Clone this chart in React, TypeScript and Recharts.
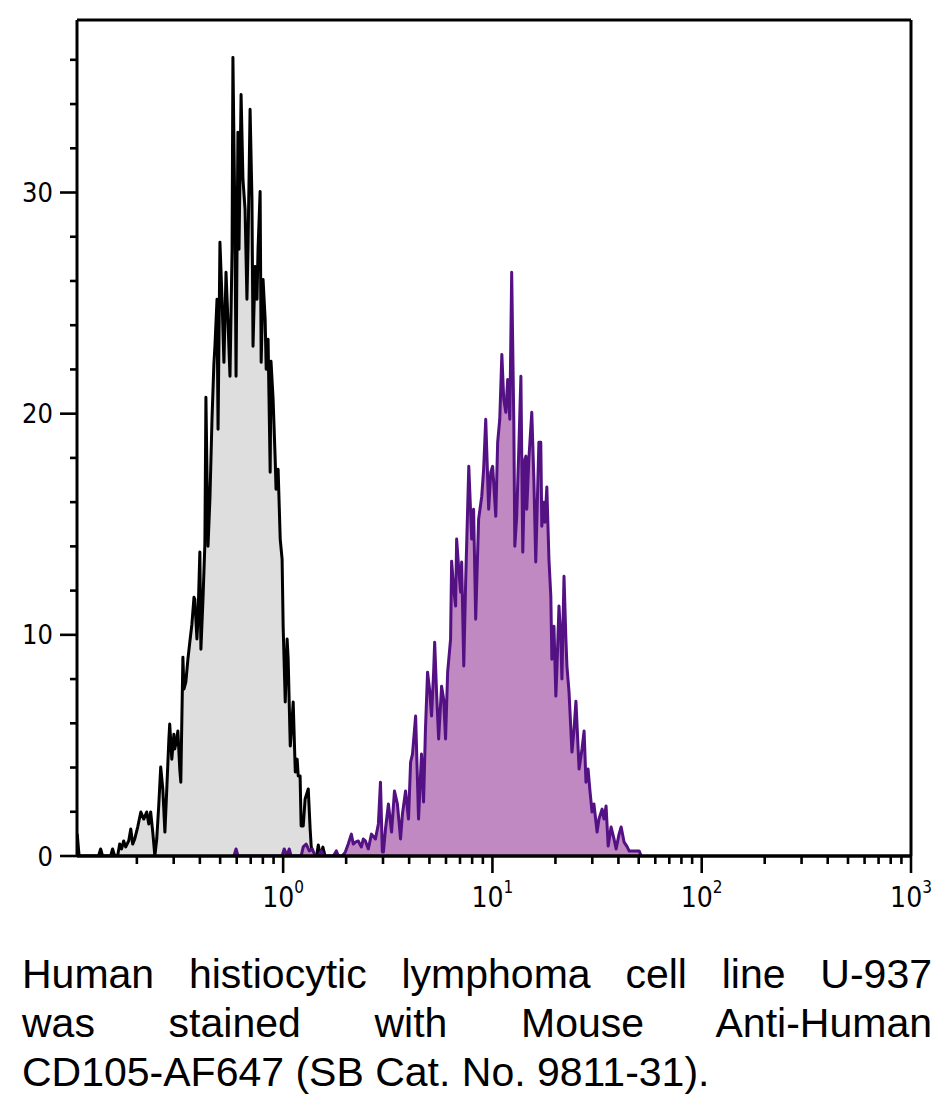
import React from 'react';
import { ComposedChart, Area, XAxis, YAxis, ReferenceLine } from 'recharts';

// Control (unstained) histogram: log10 fluorescence and event counts
const controlLog = [
  -0.984, -0.975, -0.882, -0.872, -0.863, -0.824, -0.815, -0.805, -0.791, -0.781,
  -0.772, -0.762, -0.752, -0.738, -0.728, -0.719, -0.709, -0.695, -0.680, -0.666,
  -0.652, -0.642, -0.633, -0.623, -0.613, -0.604, -0.594, -0.585, -0.575, -0.565,
  -0.556, -0.546, -0.542, -0.532, -0.522, -0.518, -0.508, -0.503, -0.494, -0.489,
  -0.479, -0.474, -0.465, -0.455, -0.446, -0.436, -0.426, -0.422, -0.412, -0.407,
  -0.398, -0.393, -0.383, -0.374, -0.369, -0.359, -0.350, -0.340, -0.331, -0.326,
  -0.316, -0.311, -0.302, -0.292, -0.283, -0.273, -0.264, -0.254, -0.244, -0.240,
  -0.230, -0.225, -0.216, -0.211, -0.201, -0.192, -0.182, -0.173, -0.168, -0.158,
  -0.149, -0.144, -0.134, -0.125, -0.120, -0.110, -0.105, -0.096, -0.086, -0.081,
  -0.072, -0.062, -0.058, -0.048, -0.038, -0.034, -0.024, -0.014, -0.005, 0.000,
  0.010, 0.019, 0.024, 0.034, 0.043, 0.048, 0.058, 0.067, 0.072, 0.081,
  0.086, 0.096, 0.105, 0.120, 0.129, 0.134, 0.144, 0.160, 0.168, 0.177,
  0.190, 0.200,
];
const controlCount = [
  1.0, 0, 0, 0.32, 0, 0, 0.32, 0, 0, 0.54,
  0.32, 0.68, 0.41, 0.68, 1.22, 0.54, 0.77, 1.31, 1.99, 1.67,
  1.99, 1.45, 1.99, 1.08, 0, 0.77, 2.35, 4.02, 3.03, 1.08,
  3.03, 5.29, 5.97, 4.38, 5.51, 4.84, 5.29, 5.65, 3.93, 3.34,
  8.99, 7.55, 7.86, 8.9, 9.67, 10.48, 11.7, 11.61, 9.81, 10.71,
  13.74, 9.35, 11.61, 14.1, 20.74, 14.01, 16.13, 19.75, 22.23, 23.05,
  25.17, 19.3, 27.75, 25.17, 22.32, 26.39, 24.27, 21.69, 27.43, 36.11,
  28.33, 21.69, 32.72, 27.43, 34.43, 30.59, 29.24, 25.17, 27.43, 33.76,
  29.69, 23.05, 26.66, 25.17, 27.43, 30.05, 22.32, 26.07, 24.27, 22.01,
  23.36, 17.35, 22.37, 20.65, 17.94, 16.58, 17.49, 14.33, 13.42, 10.39,
  6.96, 9.81, 8.9, 4.97, 6.19, 6.96, 3.8, 4.38, 3.62, 3.62,
  1.36, 1.36, 2.58, 3.03, 1.22, 0.45, 0, 0, 0.5, 0,
  0.4, 0,
];

// CD105-AF647 stained histogram: log10 fluorescence and event counts
const stainedLog = [
  -0.235, -0.225, -0.216, -0.005, 0.005, 0.019, 0.029, 0.038, 0.086, 0.096,
  0.110, 0.125, 0.139, 0.153, 0.168, 0.182, 0.196, 0.240, 0.254, 0.264,
  0.283, 0.297, 0.311, 0.326, 0.335, 0.345, 0.359, 0.374, 0.383, 0.393,
  0.407, 0.422, 0.441, 0.455, 0.465, 0.474, 0.479, 0.489, 0.503, 0.518,
  0.532, 0.546, 0.561, 0.570, 0.585, 0.599, 0.609, 0.618, 0.633, 0.647,
  0.661, 0.671, 0.680, 0.690, 0.700, 0.709, 0.719, 0.724, 0.733, 0.743,
  0.757, 0.767, 0.776, 0.786, 0.800, 0.805, 0.815, 0.824, 0.829, 0.839,
  0.848, 0.853, 0.863, 0.872, 0.887, 0.901, 0.910, 0.920, 0.934, 0.949,
  0.958, 0.968, 0.982, 0.992, 1.001, 1.016, 1.025, 1.035, 1.045, 1.054,
  1.064, 1.073, 1.083, 1.092, 1.102, 1.107, 1.116, 1.126, 1.136, 1.145,
  1.155, 1.160, 1.164, 1.174, 1.188, 1.198, 1.207, 1.222, 1.231, 1.236,
  1.246, 1.251, 1.260, 1.270, 1.279, 1.284, 1.294, 1.303, 1.308, 1.318,
  1.327, 1.332, 1.342, 1.351, 1.356, 1.366, 1.380, 1.390, 1.399, 1.414,
  1.428, 1.438, 1.447, 1.457, 1.466, 1.476, 1.485, 1.500, 1.509, 1.524,
  1.533, 1.543, 1.553, 1.567, 1.581, 1.591, 1.605, 1.615, 1.629, 1.644,
  1.653, 1.677, 1.701, 1.711,
];
const stainedCount = [
  0, 0.32, 0, 0, 0.32, 0, 0.32, 0, 0, 0.41,
  0.54, 0.23, 0.32, 0, 0, 0.23, 0, 0, 0.23, 0,
  0, 0.18, 0.54, 0.99, 0.54, 0.63, 0.68, 0.41, 0.77, 0.68,
  0.32, 0.99, 0.77, 1.45, 3.34, 0.18, 0.18, 1.22, 2.35, 1.08,
  2.94, 2.35, 0.77, 1.9, 2.94, 1.67, 4.25, 4.61, 6.33, 1.67,
  4.61, 2.44, 5.74, 8.31, 7.5, 6.33, 8.31, 9.67, 7.41, 5.29,
  7.68, 7.09, 5.29, 8.31, 9.81, 13.33, 12.07, 11.3, 14.33, 12.97,
  11.93, 13.29, 8.59, 12.38, 17.62, 14.33, 15.68, 10.71, 15.23, 16.27,
  17.49, 19.75, 15.68, 17.35, 17.62, 15.36, 18.71, 19.75, 22.68, 20.65,
  20.06, 21.55, 19.75, 26.39, 19.75, 14.01, 15.36, 18.39, 21.69, 13.74,
  17.94, 18.08, 15.68, 17.94, 20.06, 17.04, 13.29, 18.71, 18.71, 14.91,
  16.0, 15.09, 16.68, 13.42, 11.75, 8.9, 10.39, 7.23, 8.45, 11.3,
  9.81, 8.0, 12.65, 9.81, 8.59, 7.41, 4.7, 5.74, 7.0, 3.93,
  4.84, 5.65, 3.34, 3.93, 2.94, 1.99, 2.35, 1.08, 1.67, 2.12,
  1.67, 2.26, 0.45, 1.31, 0.77, 0.32, 0.99, 1.31, 0.63, 0.41,
  0.23, 0.23, 0.23, 0,
];

const yTicks = [0, 2, 4, 6, 8, 10, 12, 14, 16, 18, 20, 22, 24, 26, 28, 30, 32, 34, 36];
const yLabelEvery = 10;
const xMajorDecades = [0, 1, 2, 3];
const xMinorDecades = [-1, 0, 1, 2];
const xMinorMultipliers = [2, 3, 4, 5, 6, 7, 8, 9];

const captionLines = [
  'Human histiocytic lymphoma cell line U-937',
  'was stained with Mouse Anti-Human',
  'CD105-AF647 (SB Cat. No. 9811-31).',
];

const X_DOMAIN: [number, number] = [-0.985, 3];
const Y_DOMAIN: [number, number] = [0, 37.8];

const controlData = controlLog.map((x, i) => ({ x, y: controlCount[i] }));
const stainedData = stainedLog.map((x, i) => ({ x, y: stainedCount[i] }));

const xTicks = [
  ...xMinorDecades.flatMap((d) => xMinorMultipliers.map((m) => d + Math.log10(m))),
  ...xMajorDecades,
].sort((a, b) => a - b);

const TICK_FONT = "'Liberation Sans Narrow', 'DejaVu Sans Condensed', 'Liberation Sans', sans-serif";

const XTick = (props: any) => {
  const { x, y, payload } = props;
  const v = payload.value;
  const major = xMajorDecades.some((d) => Math.abs(d - v) < 1e-6);
  return (
    <g>
      <line x1={x} x2={x} y1={y} y2={y + (major ? 17 : 8)} stroke="#000" strokeWidth={2.6} />
      {major && (
        <text x={x} y={y + 51} textAnchor="middle" fontFamily={TICK_FONT} fontSize={28} fill="#000">
          10
          <tspan dy={-14} fontSize={17}>
            {v}
          </tspan>
        </text>
      )}
    </g>
  );
};

const YTick = (props: any) => {
  const { x, y, payload } = props;
  const v = payload.value;
  const major = v % yLabelEvery === 0;
  return (
    <g>
      <line x1={x - (major ? 17 : 7)} x2={x} y1={y} y2={y} stroke="#000" strokeWidth={2.6} />
      {major && (
        <text x={x - 24} y={y + 9.5} textAnchor="end" fontFamily={TICK_FONT} fontSize={27} fill="#000">
          {v}
        </text>
      )}
    </g>
  );
};

export default function App() {
  return (
    <div style={{ position: 'absolute', left: 0, top: 0, width: 944, height: 1103, background: '#fff' }}>
      <ComposedChart
        width={944}
        height={920}
        margin={{ top: 20, right: 33, left: 17, bottom: 14 }}
      >
        <XAxis
          dataKey="x"
          type="number"
          domain={X_DOMAIN}
          allowDataOverflow
          ticks={xTicks}
          interval={0}
          tick={<XTick />}
          tickLine={false}
          tickSize={0}
          tickMargin={0}
          height={50}
          axisLine={{ stroke: '#000', strokeWidth: 3 }}
        />
        <YAxis
          type="number"
          domain={Y_DOMAIN}
          allowDataOverflow
          ticks={yTicks}
          interval={0}
          tick={<YTick />}
          tickLine={false}
          tickSize={0}
          tickMargin={0}
          width={60}
          axisLine={{ stroke: '#000', strokeWidth: 3 }}
        />
        <Area
          data={controlData}
          dataKey="y"
          type="linear"
          stroke="#000000"
          strokeWidth={3}
          strokeLinejoin="round"
          fill="#dedede"
          fillOpacity={1}
          isAnimationActive={false}
          dot={false}
          activeDot={false}
        />
        <Area
          data={stainedData}
          dataKey="y"
          type="linear"
          stroke="#541183"
          strokeWidth={3}
          strokeLinejoin="round"
          fill="#c089c2"
          fillOpacity={1}
          isAnimationActive={false}
          dot={false}
          activeDot={false}
        />
        <ReferenceLine y={0} stroke="#000" strokeWidth={3} />
        <ReferenceLine y={Y_DOMAIN[1]} stroke="#000" strokeWidth={3} />
        <ReferenceLine x={X_DOMAIN[1]} stroke="#000" strokeWidth={3} />
      </ComposedChart>
      <div
        style={{
          position: 'absolute',
          left: 22,
          top: 950,
          width: 910,
          fontFamily: "'Liberation Sans', Arial, sans-serif",
          fontSize: 41,
          lineHeight: '49px',
          color: '#000',
        }}
      >
        {captionLines.map((line, i) => (
          <div
            key={i}
            style={{
              textAlign: 'justify',
              textAlignLast: i < captionLines.length - 1 ? 'justify' : 'left',
              whiteSpace: 'nowrap',
            }}
          >
            {line}
          </div>
        ))}
      </div>
    </div>
  );
}
